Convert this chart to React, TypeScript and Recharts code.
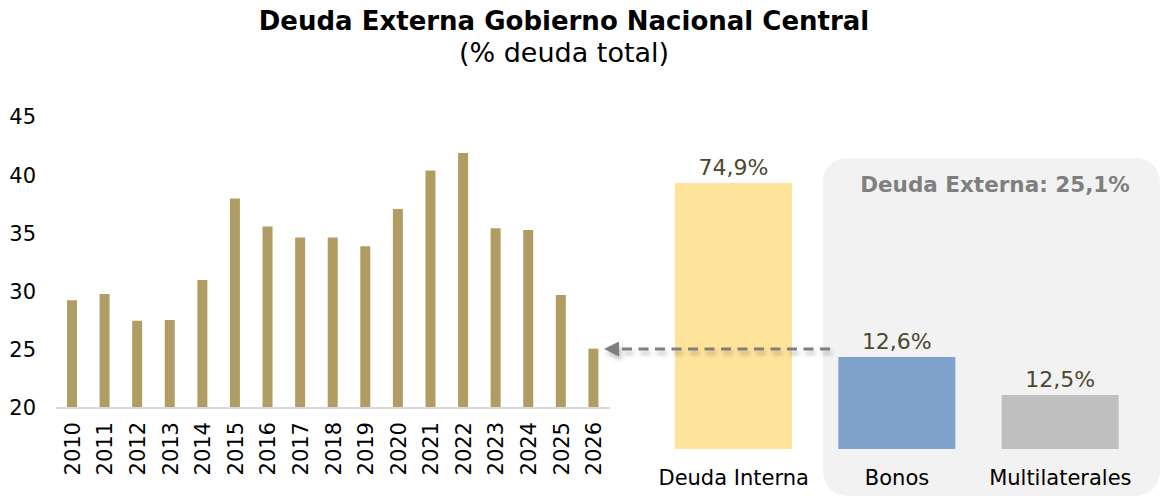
import React from "react";
import { BarChart, Bar, XAxis, YAxis, LabelList, Cell } from "recharts";

const FONT = "'DejaVu Sans', Verdana, sans-serif";

// serie histórica, % deuda total
const years = [
  "2010", "2011", "2012", "2013", "2014", "2015", "2016", "2017", "2018",
  "2019", "2020", "2021", "2022", "2023", "2024", "2025", "2026",
];
const externalShare = [
  29.25, 29.8, 27.5, 27.55, 31.0, 38.0, 35.6, 34.65, 34.65, 33.9, 37.1,
  40.4, 41.9, 35.45, 35.3, 29.7, 25.1,
];
const yTicks = [20, 25, 30, 35, 40, 45];

// composición 2026
const compCategories = ["Deuda Interna", "Bonos", "Multilaterales"];
const compLabels = ["74,9%", "12,6%", "12,5%"];
// alturas tal como están dibujadas en el original
const compBarHeights = [74.9, 25.9, 15.2];
const compColors = ["#fee49b", "#7fa2cc", "#bfbfbf"];

const historyData = years.map((y, i) => ({ year: y, value: externalShare[i] }));
const compData = compCategories.map((c, i) => ({
  name: c,
  value: compBarHeights[i],
  label: compLabels[i],
  color: compColors[i],
}));

const YearTick = ({ x, y, payload }: any) => (
  <text
    x={x}
    y={y}
    transform={`rotate(-90 ${x} ${y})`}
    textAnchor="end"
    dy="0.36em"
    fontSize={21}
    fontFamily={FONT}
    fill="#000"
  >
    {payload.value}
  </text>
);

const CompTick = ({ x, y, payload }: any) => (
  <text x={x} y={y + 36} textAnchor="middle" fontSize={21} fontFamily={FONT} fill="#000">
    {payload.value}
  </text>
);

export default function App() {
  return (
    <div
      style={{
        position: "absolute",
        left: 0,
        top: 0,
        width: 1160,
        height: 496,
        background: "#fff",
        overflow: "hidden",
        fontFamily: FONT,
      }}
    >
      {/* panel deuda externa */}
      <svg width={1160} height={496} style={{ position: "absolute", left: 0, top: 0 }}>
        <rect x={823} y={158} width={337} height={338} rx={24} fill="#f2f2f2" />
        <text
          x={995}
          y={192}
          textAnchor="middle"
          fontSize={21.5}
          fontWeight="bold"
          fontFamily={FONT}
          fill="#7f7f7f"
        >
          Deuda Externa: 25,1%
        </text>
      </svg>

      <div style={{ position: "absolute", left: 0, top: 0 }}>
        <BarChart
          width={620}
          height={496}
          data={historyData}
          margin={{ top: 117, right: 10, bottom: 0, left: 0 }}
        >
          <XAxis
            dataKey="year"
            height={88}
            interval={0}
            tickSize={0}
            tickMargin={14}
            tickLine={false}
            axisLine={{ stroke: "#d9d9d9", strokeWidth: 2 }}
            tick={<YearTick />}
          />
          <YAxis
            width={56}
            domain={[20, 45]}
            ticks={yTicks}
            allowDataOverflow
            tickSize={0}
            tickMargin={20}
            tickLine={false}
            axisLine={false}
            tick={{ fontSize: 21, fill: "#000", fontFamily: FONT }}
          />
          <Bar dataKey="value" fill="#b19d63" barSize={10} isAnimationActive={false} />
        </BarChart>
      </div>

      <div style={{ position: "absolute", left: 0, top: 0 }}>
        <BarChart
          width={1160}
          height={496}
          data={compData}
          margin={{ top: 165, right: 18, bottom: 0, left: 652 }}
        >
          <XAxis
            dataKey="name"
            height={47}
            interval={0}
            tickSize={0}
            tickMargin={0}
            tickLine={false}
            axisLine={false}
            tick={<CompTick />}
          />
          <YAxis hide domain={[0, 80]} />
          <Bar dataKey="value" barSize={117} isAnimationActive={false}>
            {compData.map((d) => (
              <Cell key={d.name} fill={d.color} />
            ))}
            <LabelList
              dataKey="label"
              position="top"
              offset={8}
              fontSize={22}
              fontFamily={FONT}
              fill="#4d4731"
            />
          </Bar>
        </BarChart>
      </div>

      {/* flecha y títulos */}
      <svg width={1160} height={496} style={{ position: "absolute", left: 0, top: 0 }}>
        <defs>
          <filter id="sh" x="-20%" y="-50%" width="140%" height="300%">
            <feDropShadow dx={2} dy={4} stdDeviation={2} floodColor="#000" floodOpacity={0.25} />
          </filter>
        </defs>
        <g filter="url(#sh)">
          <line
            x1={830}
            y1={349}
            x2={617}
            y2={349}
            stroke="#7f7f7f"
            strokeWidth={3}
            strokeDasharray="10 6.5"
          />
          <polygon points="604,349 619,341.5 619,356.5" fill="#7f7f7f" />
        </g>
        <text
          x={564}
          y={30}
          textAnchor="middle"
          fontSize={26}
          fontWeight="bold"
          fontFamily={FONT}
          fill="#000"
        >
          Deuda Externa Gobierno Nacional Central
        </text>
        <text x={564} y={62} textAnchor="middle" fontSize={27} fontFamily={FONT} fill="#000">
          (% deuda total)
        </text>
      </svg>
    </div>
  );
}
